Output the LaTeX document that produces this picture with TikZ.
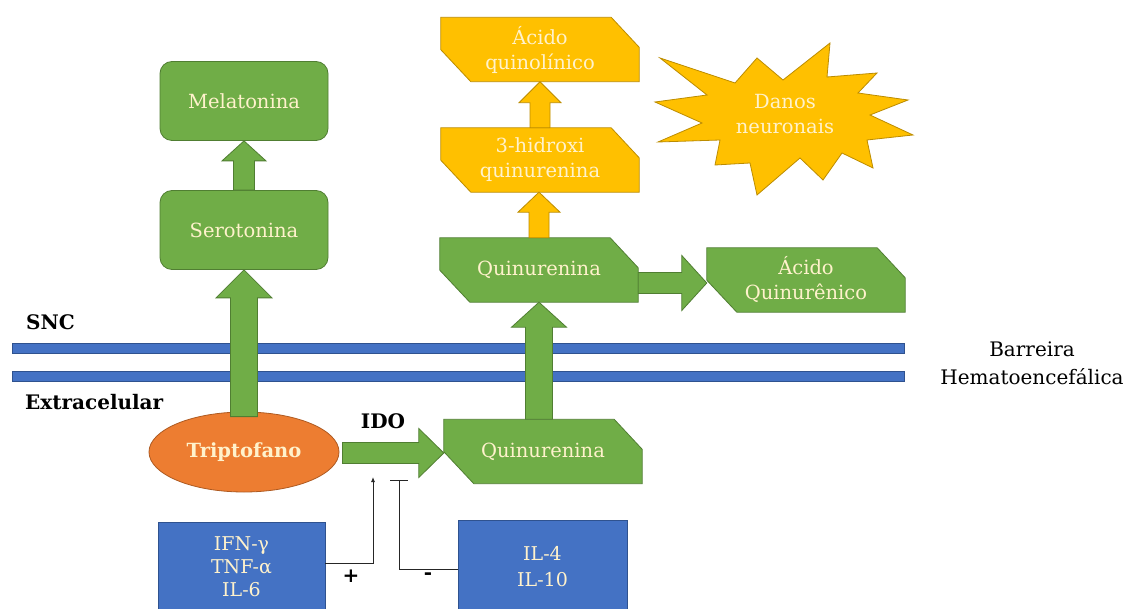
\documentclass[tikz,border=0pt]{standalone}
\usepackage{fontspec}
\setmainfont{DejaVu Serif}
\usetikzlibrary{calc,shapes.geometric,arrows.meta,backgrounds}
\definecolor{gfill}{HTML}{70AD47}
\definecolor{gline}{HTML}{507E32}
\definecolor{yfill}{HTML}{FFC000}
\definecolor{yline}{HTML}{BC8C00}
\definecolor{bfill}{HTML}{4472C4}
\definecolor{bline}{HTML}{2F528F}
\definecolor{ofill}{HTML}{ED7D31}
\definecolor{oline}{HTML}{AE5A21}
\definecolor{cream}{HTML}{FFF2CC}
\tikzset{
  boxtext/.style={text=cream, align=center, font=\fontsize{19.5}{25}\selectfont},
  greenround/.style={boxtext, draw=gline, fill=gfill, line width=0.8pt, rounded corners=12pt, minimum width=168pt, minimum height=79pt},
  snipbox/.style={boxtext, inner sep=0pt, minimum width=198pt, minimum height=64pt},
  gshape/.style={draw=gline, fill=gfill, line width=0.8pt},
  yshape/.style={draw=yline, fill=yfill, line width=0.8pt},
  bluebox/.style={text=cream, align=center, font=\fontsize{19}{23}\selectfont, draw=bline, fill=bfill, line width=0.8pt, minimum width=167pt, minimum height=90pt, text depth=0pt},
  bluebar/.style={draw=bline, fill=bfill, line width=0.5pt},
  boldlabel/.style={font=\bfseries\fontsize{20}{24}\selectfont, text=black, inner sep=0pt},
  thinline/.style={draw=black!85, line width=0.8pt},
}
\newcommand{\snipshape}[2]{%
  \path[#2] (#1.north west) -- ([xshift=-28pt]#1.north east) -- ([yshift=-30pt]#1.north east)
    -- (#1.south east) -- ([xshift=30pt]#1.south west) -- ([yshift=32pt]#1.south west) -- cycle;}
\newcommand{\upblock}[6]{%
  \path[#1] let \p1=#2, \p2=#3 in
    (\x1-#4,\y1) -- (\x1-#4,\y2-#6) -- (\x1-#5,\y2-#6) -- (\x1,\y2)
    -- (\x1+#5,\y2-#6) -- (\x1+#4,\y2-#6) -- (\x1+#4,\y1) -- cycle;}
\newcommand{\rightblock}[6]{%
  \path[#1] let \p1=#2, \p2=#3 in
    (\x1,\y1+#4) -- (\x2-#6,\y1+#4) -- (\x2-#6,\y1+#5) -- (\x2,\y1)
    -- (\x2-#6,\y1-#5) -- (\x2-#6,\y1-#4) -- (\x1,\y1-#4) -- cycle;}
\begin{document}
\begin{tikzpicture}[x=1pt,y=-1pt]
\path[use as bounding box, clip] (0,0) rectangle (1126,609);

% nodes
\node[greenround] (mela) at (244,101) {Melatonina};
\node[greenround] (sero) at (244,230) {Serotonina};
\node[ellipse, draw=oline, fill=ofill, line width=0.8pt, minimum width=190pt, minimum height=80pt, inner sep=0pt,
      text=cream, font=\bfseries\fontsize{19.5}{22}\selectfont] (trip) at (244,452) {Triptofano};
\node[snipbox] (quinb) at (543,451.5) {Quinurenina};
\node[snipbox] (quint) at (539,270) {Quinurenina};
\node[snipbox] (hid) at (540,160) {3-hidroxi\\quinurenina};
\node[snipbox] (quinol) at (540,49.5) {Ácido\\quinolínico};
\node[snipbox] (acq) at (806,280) {Ácido\\Quinurênico};

\begin{pgfonlayer}{background}
  \fill[white] (0,0) rectangle (1126,609);
  \path[bluebar] (12,343) rectangle (904,353);
  \path[bluebar] (12,371) rectangle (904,381);
  \snipshape{quinb}{gshape}
  \snipshape{quint}{gshape}
  \snipshape{acq}{gshape}
  \snipshape{hid}{yshape}
  \snipshape{quinol}{yshape}
  \path[yshape] (660,58) -- (735,83) -- (757,58) -- (783,80) -- (830,43) -- (827,77)
    -- (877,73) -- (858,93) -- (908,100) -- (870,115) -- (913,135) -- (867,140)
    -- (873,168) -- (842,153) -- (823,180) -- (800,158) -- (757,195) -- (750,163)
    -- (715,165) -- (720,140) -- (658,142) -- (702,123) -- (655,102) -- (707,95) -- cycle;
\end{pgfonlayer}
\node[boxtext] (danos) at (785,114) {Danos\\neuronais};

% block arrows
\upblock{gshape}{([yshift=-5pt]trip.north)}{(sero.south)}{13.5pt}{28pt}{28pt}
\upblock{gshape}{(sero.north)}{(mela.south)}{10.5pt}{22pt}{20pt}
\rightblock{gshape}{([xshift=3pt,yshift=-1pt]trip.east)}{(quinb.west)}{10.5pt}{24.5pt}{25pt}
\upblock{gshape}{(quinb.north -| quint.south)}{(quint.south)}{13.5pt}{27.5pt}{25pt}
\rightblock{gshape}{([yshift=-13pt]quint.east)}{(acq.west)}{10.5pt}{27.5pt}{25pt}
\upblock{yshape}{(quint.north)}{(hid.south)}{10pt}{21pt}{20pt}
\upblock{yshape}{(hid.north)}{(quinol.south)}{10pt}{21pt}{21pt}

% labels
\node[boldlabel, anchor=west] (snc) at (26,322) {SNC};
\node[boldlabel, anchor=west] (extra) at (25,402) {Extracelular};
\node[boldlabel] (ido) at (383,421) {IDO};
\node[align=center, font=\fontsize{20}{28}\selectfont] (barreira) at (1032,363) {Barreira\\Hematoencefálica};

% cytokine boxes
\node[bluebox] (ifn) at (241.5,567) {IFN-γ\\TNF-α\\IL-6};
\node[bluebox, minimum width=169pt, minimum height=92pt, font=\fontsize{19}{26}\selectfont] (il) at (542.5,566) {IL-4\\IL-10};
\coordinate (act) at (373,477);
\coordinate (inh) at (399,480);
\draw[thinline, -{Latex[length=5pt,width=4pt]}] ([yshift=4pt]ifn.east) -| (act);
\draw[thinline, -{Bar[width=18pt]}] ([yshift=-3pt]il.west) -| (inh);
\node[boldlabel] (plus) at (351,576) {+};
\node[boldlabel] (minus) at (428,576) {-};
\end{tikzpicture}
\end{document}
